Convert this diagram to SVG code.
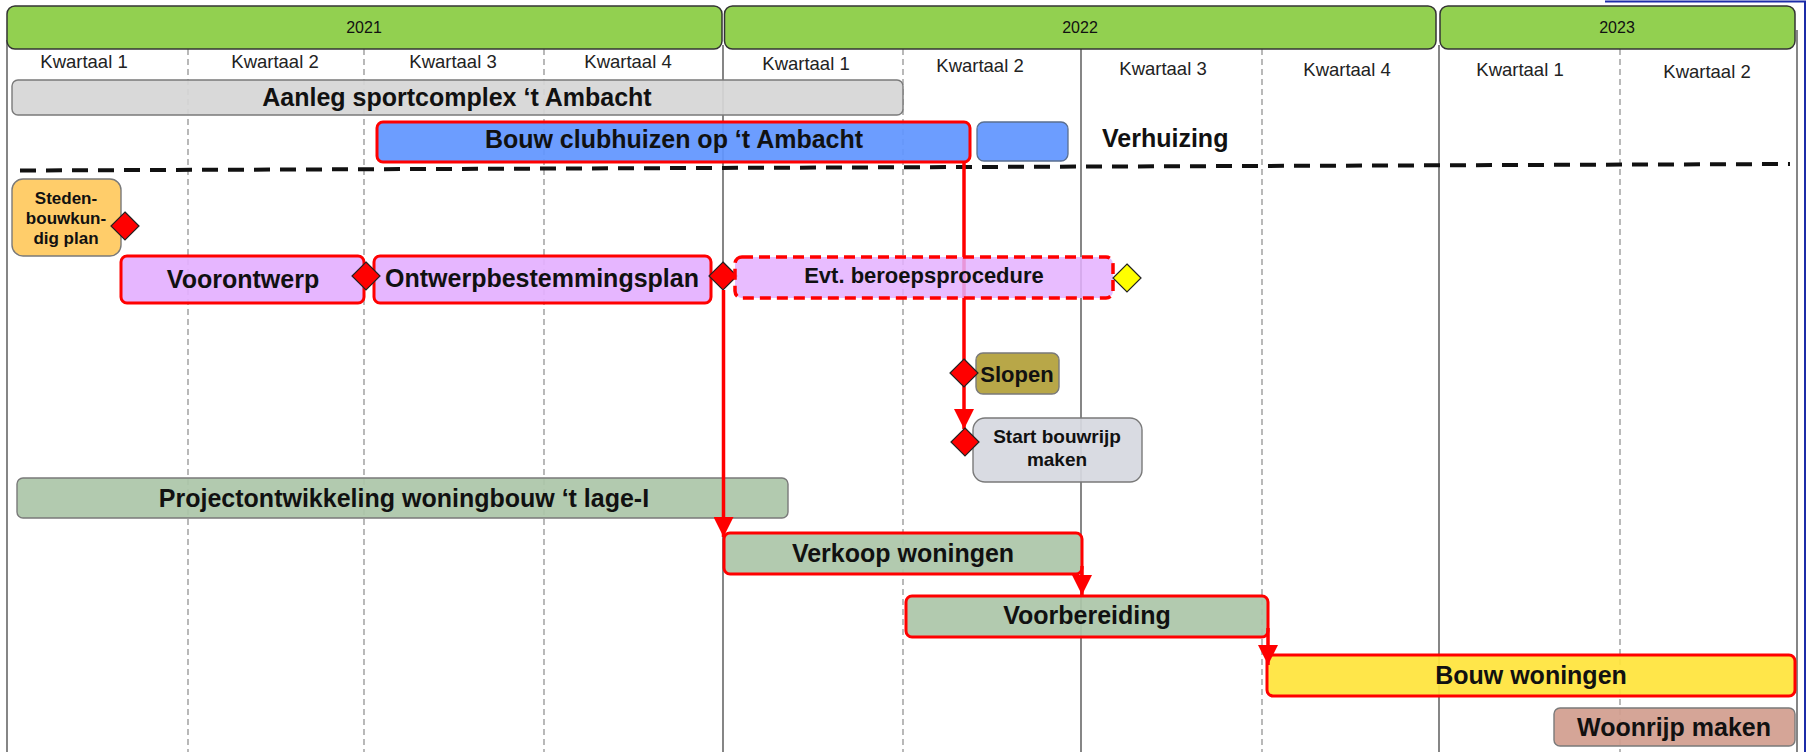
<svg xmlns="http://www.w3.org/2000/svg" width="1806" height="752" viewBox="0 0 1806 752">
<style>
  text { font-family: "Liberation Sans", Arial, sans-serif; fill: #111; }
  .yr { fill: #92d050; stroke: #333; stroke-width: 1.5; }
  .yt { font-size: 16px; text-anchor: middle; }
  .qt { font-size: 18.5px; text-anchor: middle; fill: #222; }
  .gd { stroke: #8a8a8a; stroke-width: 1.2; stroke-dasharray: 6 4; fill: none; }
  .gs { stroke: #444; stroke-width: 1.3; fill: none; }
  .bar { fill-opacity: 0.93; }
  .red { stroke: #ff0000; stroke-width: 3; }
  .gry { stroke: #7a7a7a; stroke-width: 1.4; }
  .bt { font-size: 25px; font-weight: bold; text-anchor: middle; }
  .dm { fill: #ff0000; stroke: #222; stroke-width: 1.2; }
  .con { stroke: #ff0000; stroke-width: 3.5; fill: none; }
</style>
<defs>
  <marker id="arr" markerUnits="userSpaceOnUse" markerWidth="20" markerHeight="20" refX="20" refY="10" orient="auto" viewBox="0 0 20 20">
    <path d="M0,0 L20,10 L0,20 z" fill="#ff0000"/>
  </marker>
</defs>
<rect x="0" y="0" width="1806" height="752" fill="#ffffff"/>

<g id="grid">
  <line class="gs" x1="7" y1="40" x2="7" y2="752"/>
  <line class="gs" x1="723" y1="45" x2="723" y2="752"/>
  <line class="gs" x1="1081" y1="49" x2="1081" y2="752"/>
  <line class="gs" x1="1439" y1="45" x2="1439" y2="752"/>
  <line class="gs" x1="1797" y1="30" x2="1797" y2="752"/>
  <line class="gd" x1="188" y1="49" x2="188" y2="752"/>
  <line class="gd" x1="364" y1="49" x2="364" y2="752"/>
  <line class="gd" x1="544" y1="49" x2="544" y2="752"/>
  <line class="gd" x1="903" y1="49" x2="903" y2="752"/>
  <line class="gd" x1="1262" y1="49" x2="1262" y2="752"/>
  <line class="gd" x1="1620" y1="49" x2="1620" y2="752"/>
  <path d="M1605,1.5 H1805 V752" fill="none" stroke="#1c2ca8" stroke-width="2"/>
</g>

<g id="years">
  <rect class="yr" x="7" y="6" width="715" height="43" rx="8"/>
  <text class="yt" x="364" y="33">2021</text>
  <rect class="yr" x="724.5" y="6" width="711.5" height="43" rx="8"/>
  <text class="yt" x="1080" y="33">2022</text>
  <rect class="yr" x="1440" y="6" width="355" height="43" rx="8"/>
  <text class="yt" x="1617" y="33">2023</text>
</g>

<g id="quarters">
  <text class="qt" x="84" y="68">Kwartaal 1</text>
  <text class="qt" x="275" y="68">Kwartaal 2</text>
  <text class="qt" x="453" y="68">Kwartaal 3</text>
  <text class="qt" x="628" y="68">Kwartaal 4</text>
  <text class="qt" x="806" y="70">Kwartaal 1</text>
  <text class="qt" x="980" y="72">Kwartaal 2</text>
  <text class="qt" x="1163" y="75">Kwartaal 3</text>
  <text class="qt" x="1347" y="76">Kwartaal 4</text>
  <text class="qt" x="1520" y="76">Kwartaal 1</text>
  <text class="qt" x="1707" y="78">Kwartaal 2</text>
</g>

<g id="aanleg">
  <rect class="bar gry" x="12" y="80" width="891" height="35" rx="6" fill="#d6d6d6"/>
  <text class="bt" x="457" y="106">Aanleg sportcomplex ‘t Ambacht</text>
</g>

<g id="bouw-clubhuizen">
  <rect class="bar red" x="377" y="122" width="593" height="40" rx="6" fill="#6196ff"/>
  <text class="bt" x="674" y="148">Bouw clubhuizen op ‘t Ambacht</text>
</g>

<g id="blauw-blok">
  <rect class="bar" x="977" y="122" width="91" height="39" rx="7" fill="#6196ff" stroke="#5a6f90" stroke-width="1.3"/>
</g>

<g id="verhuizing">
  <rect x="1082" y="123" width="170" height="40" fill="#ffffff"/>
  <text class="bt" x="1102" y="147" style="text-anchor:start">Verhuizing</text>
</g>

<g id="scheiding">
  <line x1="20" y1="170.5" x2="1790" y2="164" stroke="#111" stroke-width="4" stroke-dasharray="16 10"/>
</g>

<g id="stedenbouwkundig-plan">
  <rect class="bar gry" x="12" y="179" width="109" height="77" rx="11" fill="#ffc95f"/>
  <text x="66" y="204" style="font-size:17px;font-weight:bold;text-anchor:middle">Steden-</text>
  <text x="66" y="224" style="font-size:17px;font-weight:bold;text-anchor:middle">bouwkun-</text>
  <text x="66" y="244" style="font-size:17px;font-weight:bold;text-anchor:middle">dig plan</text>
  <polygon class="dm" points="125,212 139,226 125,240 111,226"/>
</g>

<g id="voorontwerp">
  <rect class="bar red" x="121" y="256" width="243" height="47" rx="6" fill="#e4b0ff"/>
  <text class="bt" x="243" y="288">Voorontwerp</text>
</g>

<g id="ontwerpbestemmingsplan">
  <rect class="bar red" x="374" y="256" width="337" height="47" rx="6" fill="#e4b0ff"/>
  <text class="bt" x="542" y="287">Ontwerpbestemmingsplan</text>
  <polygon class="dm" points="366,262 380,276 366,290 352,276"/>
</g>

<g id="ontwerp-mijlpaal">
  <polygon class="dm" points="723,262 737,276 723,290 709,276"/>
</g>

<g id="slopen">
  <rect class="bar gry" x="976" y="353" width="83" height="41" rx="7" fill="#b3a03a"/>
  <text x="1017" y="382" style="font-size:22px;font-weight:bold;text-anchor:middle">Slopen</text>
</g>

<g id="start-bouwrijp">
  <rect class="bar gry" x="973" y="418" width="169" height="64" rx="12" fill="#d6d8e0"/>
  <text x="1057" y="443" style="font-size:19px;font-weight:bold;text-anchor:middle">Start bouwrijp</text>
  <text x="1057" y="466" style="font-size:19px;font-weight:bold;text-anchor:middle">maken</text>
</g>

<g id="projectontwikkeling">
  <rect class="bar gry" x="17" y="478" width="771" height="40" rx="6" fill="#acc6a9"/>
  <text class="bt" x="404" y="507">Projectontwikkeling woningbouw ‘t lage-I</text>
</g>

<g id="verkoop-woningen">
  <rect class="bar red" x="724" y="533" width="358" height="41" rx="6" fill="#acc6a9"/>
  <text class="bt" x="903" y="562">Verkoop woningen</text>
</g>

<g id="voorbereiding">
  <rect class="bar red" x="906" y="596" width="362" height="41" rx="6" fill="#acc6a9"/>
  <text class="bt" x="1087" y="624">Voorbereiding</text>
</g>

<g id="bouw-woningen">
  <rect class="bar red" x="1267" y="655" width="528" height="41" rx="6" fill="#ffe43c"/>
  <text class="bt" x="1531" y="684">Bouw woningen</text>
</g>

<g id="woonrijp-maken">
  <rect class="bar gry" x="1554" y="708" width="241" height="38" rx="6" fill="#d29e8f"/>
  <text class="bt" x="1674" y="736">Woonrijp maken</text>
</g>

<g id="connectors">
  <line class="con" x1="964" y1="162" x2="964" y2="360"/>
  <line class="con" x1="964" y1="386" x2="964" y2="429" marker-end="url(#arr)"/>
  <line class="con" x1="723.5" y1="290" x2="723.5" y2="537" marker-end="url(#arr)"/>
  <line class="con" x1="1082" y1="566" x2="1082" y2="595" marker-end="url(#arr)"/>
  <line class="con" x1="1268" y1="628" x2="1268" y2="665" marker-end="url(#arr)"/>
</g>

<g id="mijlpalen-slopen">
  <polygon class="dm" points="964,359 978,373 964,387 950,373"/>
  <polygon class="dm" points="965,428 979,442 965,456 951,442"/>
</g>

<g id="beroepsprocedure">
  <rect x="735" y="257" width="378" height="41" rx="7" fill="#e4b0ff" fill-opacity="0.85" stroke="#ff0000" stroke-width="3.5" stroke-dasharray="11 6"/>
  <text x="924" y="283" style="font-size:22px;font-weight:bold;text-anchor:middle">Evt. beroepsprocedure</text>
  <polygon points="1127,264 1141,278 1127,292 1113,278" fill="#ffff00" stroke="#222" stroke-width="1.2"/>
</g>
</svg>
